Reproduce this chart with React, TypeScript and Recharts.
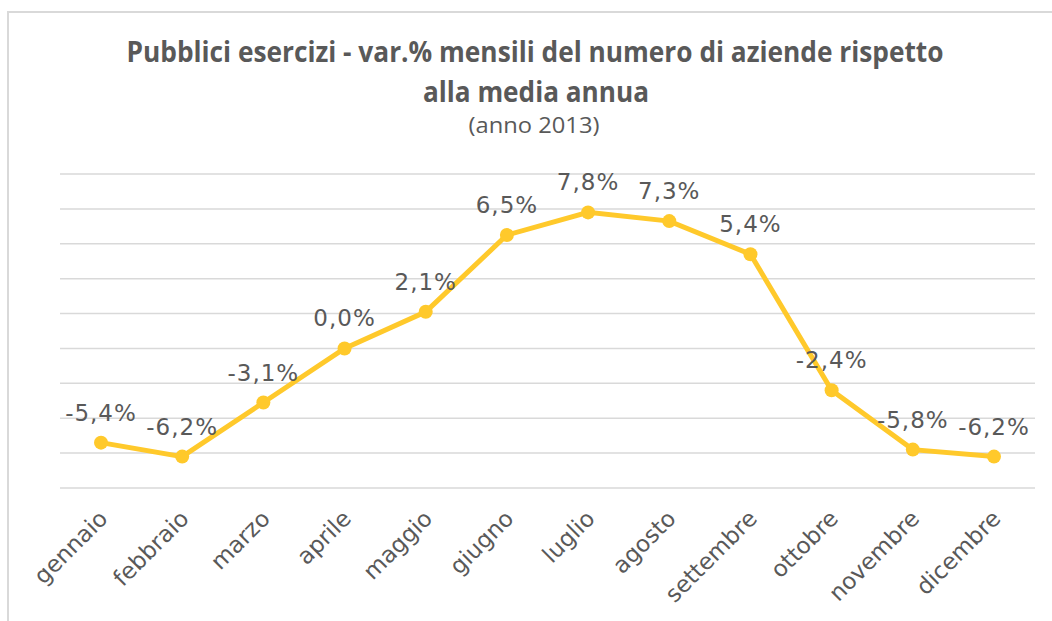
import { CartesianGrid, LabelList, Line, LineChart, XAxis, YAxis } from 'recharts';

const months = [
  'gennaio', 'febbraio', 'marzo', 'aprile', 'maggio', 'giugno',
  'luglio', 'agosto', 'settembre', 'ottobre', 'novembre', 'dicembre',
];
const variations = [-5.4, -6.2, -3.1, 0.0, 2.1, 6.5, 7.8, 7.3, 5.4, -2.4, -5.8, -6.2];
const yTicks = [-8, -6, -4, -2, 0, 2, 4, 6, 8, 10];

const titleLines = ['Pubblici esercizi - var.% mensili del numero di aziende rispetto', 'alla media annua'];
const subtitle = '(anno 2013)';

const data = months.map((m, i) => ({ month: m, value: variations[i] }));

const fmt = (v: number) => v.toFixed(1).replace('.', ',') + '%';

const TEXT = '#595959';
const YELLOW = '#FFC92B';

function MonthTick({ x, y, payload }: any) {
  const ax = x + 8;
  const ay = y + 24;
  return (
    <text
      x={ax}
      y={ay}
      transform={`rotate(-45, ${ax}, ${ay})`}
      textAnchor="end"
      fill={TEXT}
      fontSize={23}
      fontFamily="'DejaVu Sans', Verdana, sans-serif"
    >
      {payload.value}
    </text>
  );
}

function ValueLabel(props: any) {
  const { x, y, value } = props;
  return (
    <text
      x={x}
      y={y - 22}
      textAnchor="middle"
      fill={TEXT}
      fontSize={23}
      letterSpacing={1}
      fontFamily="'DejaVu Sans', Verdana, sans-serif"
    >
      {fmt(value)}
    </text>
  );
}

export default function App() {
  return (
    <div style={{ position: 'fixed', left: 0, top: 0, width: 1052, height: 621, overflow: 'hidden', background: '#fff' }}>
      <div
        style={{
          position: 'absolute', left: 7, top: 11, width: 1100, height: 700,
          border: '2px solid #d9d9d9', boxSizing: 'border-box',
        }}
      />
      <svg width={1052} height={150} style={{ position: 'absolute', left: 0, top: 0 }}>
        <text
          x={535} y={62} textAnchor="middle" fill={TEXT} fontSize={28} fontWeight="bold"
          fontFamily="'Liberation Sans Narrow', 'Open Sans', sans-serif"
          textLength={817} lengthAdjust="spacingAndGlyphs"
        >
          {titleLines[0]}
        </text>
        <text
          x={536} y={102} textAnchor="middle" fill={TEXT} fontSize={28} fontWeight="bold"
          fontFamily="'Liberation Sans Narrow', 'Open Sans', sans-serif"
          textLength={226} lengthAdjust="spacingAndGlyphs"
        >
          {titleLines[1]}
        </text>
        <text
          x={534} y={133} textAnchor="middle" fill={TEXT} fontSize={22}
          fontFamily="'Liberation Sans Narrow', 'Open Sans', sans-serif"
          textLength={131} lengthAdjust="spacingAndGlyphs"
        >
          {subtitle}
        </text>
      </svg>
      <div style={{ position: 'absolute', left: 0, top: 0 }}>
        <LineChart width={1052} height={621} data={data} margin={{ top: 174, right: 17, bottom: 0, left: 60 }}>
          <CartesianGrid vertical={false} stroke="#d9d9d9" strokeWidth={1.5} />
          <XAxis
            dataKey="month"
            height={133}
            interval={0}
            axisLine={false}
            tickLine={false}
            padding={{ left: 41, right: 41 }}
            tick={<MonthTick />}
          />
          <YAxis hide domain={[-8, 10]} ticks={yTicks} type="number" />
          <Line
            dataKey="value"
            stroke={YELLOW}
            strokeWidth={5}
            dot={{ r: 7, fill: YELLOW, stroke: YELLOW, strokeWidth: 0 }}
            isAnimationActive={false}
          >
            <LabelList dataKey="value" content={<ValueLabel />} />
          </Line>
        </LineChart>
      </div>
    </div>
  );
}
